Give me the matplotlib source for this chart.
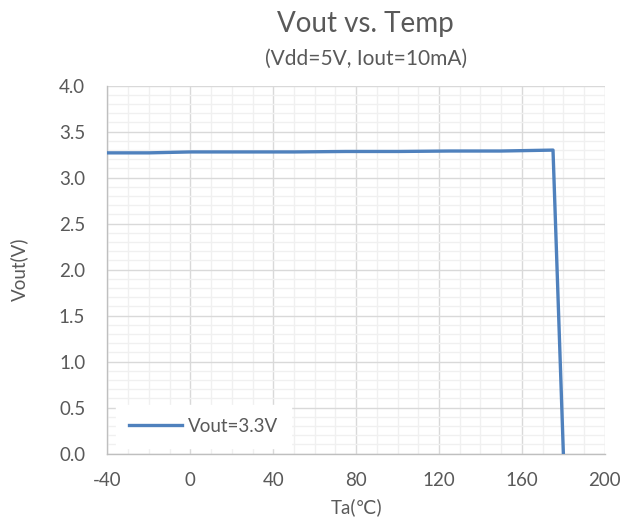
import matplotlib.pyplot as plt
from matplotlib.ticker import MultipleLocator, FormatStrFormatter

plt.rcParams['font.family'] = ['Lato', 'DejaVu Sans']
plt.rcParams['axes.unicode_minus'] = False

# data
temp = [-40, -20, 0, 25, 50, 75, 100, 125, 150, 175, 180]
vout = [3.27, 3.27, 3.28, 3.28, 3.28, 3.285, 3.285, 3.29, 3.29, 3.30, 0.0]

TEXT = "#595959"

fig = plt.figure(figsize=(6.25, 5.2), dpi=100)
ax = fig.add_axes([0.172, 0.1275, 0.7957, 0.7077])

ax.plot(temp, vout, color="#4F81BD", linewidth=2.4, label="Vout=3.3V", zorder=3)

ax.set_xlim(-40, 200)
ax.set_ylim(0, 4.0)
ax.xaxis.set_major_locator(MultipleLocator(40))
ax.xaxis.set_minor_locator(MultipleLocator(10))
ax.yaxis.set_major_locator(MultipleLocator(0.5))
ax.yaxis.set_minor_locator(MultipleLocator(0.1))
ax.yaxis.set_major_formatter(FormatStrFormatter("%.1f"))

ax.grid(which="major", color="#d9d9d9", linewidth=1.0)
ax.grid(which="minor", color="#f0f0f0", linewidth=1.0)
ax.set_axisbelow(True)

for side in ("top", "right"):
    ax.spines[side].set_visible(False)
for side in ("left", "bottom"):
    ax.spines[side].set_color("#bfbfbf")
    ax.spines[side].set_linewidth(1.0)

ax.tick_params(which="both", length=0, labelsize=13.5, labelcolor=TEXT)
ax.tick_params(axis="x", pad=13)
ax.tick_params(axis="y", pad=16)

ax.set_xlabel("Ta(℃)", fontsize=13.5, color=TEXT)
ax.set_ylabel("Vout(V)", fontsize=13.5, color=TEXT)
ax.xaxis.set_label_coords(0.5, -0.122)
ax.yaxis.set_label_coords(-0.16, 0.5)

fig.text(0.585, 0.953, "Vout vs. Temp", ha="center", va="center",
         fontsize=20, color=TEXT)
fig.text(0.585, 0.886, "(Vdd=5V, Iout=10mA)", ha="center", va="center",
         fontsize=15, color=TEXT)

leg = ax.legend(loc="lower left", bbox_to_anchor=(0.01, 0.005), frameon=True,
                fancybox=False, edgecolor="white", framealpha=1.0,
                fontsize=13.5, handlelength=2.8, handletextpad=0.3,
                borderpad=0.4, borderaxespad=0.5)
leg.get_frame().set_boxstyle("square", pad=0.3)
for t in leg.get_texts():
    t.set_color(TEXT)

fig.savefig("out.png", dpi=100)
